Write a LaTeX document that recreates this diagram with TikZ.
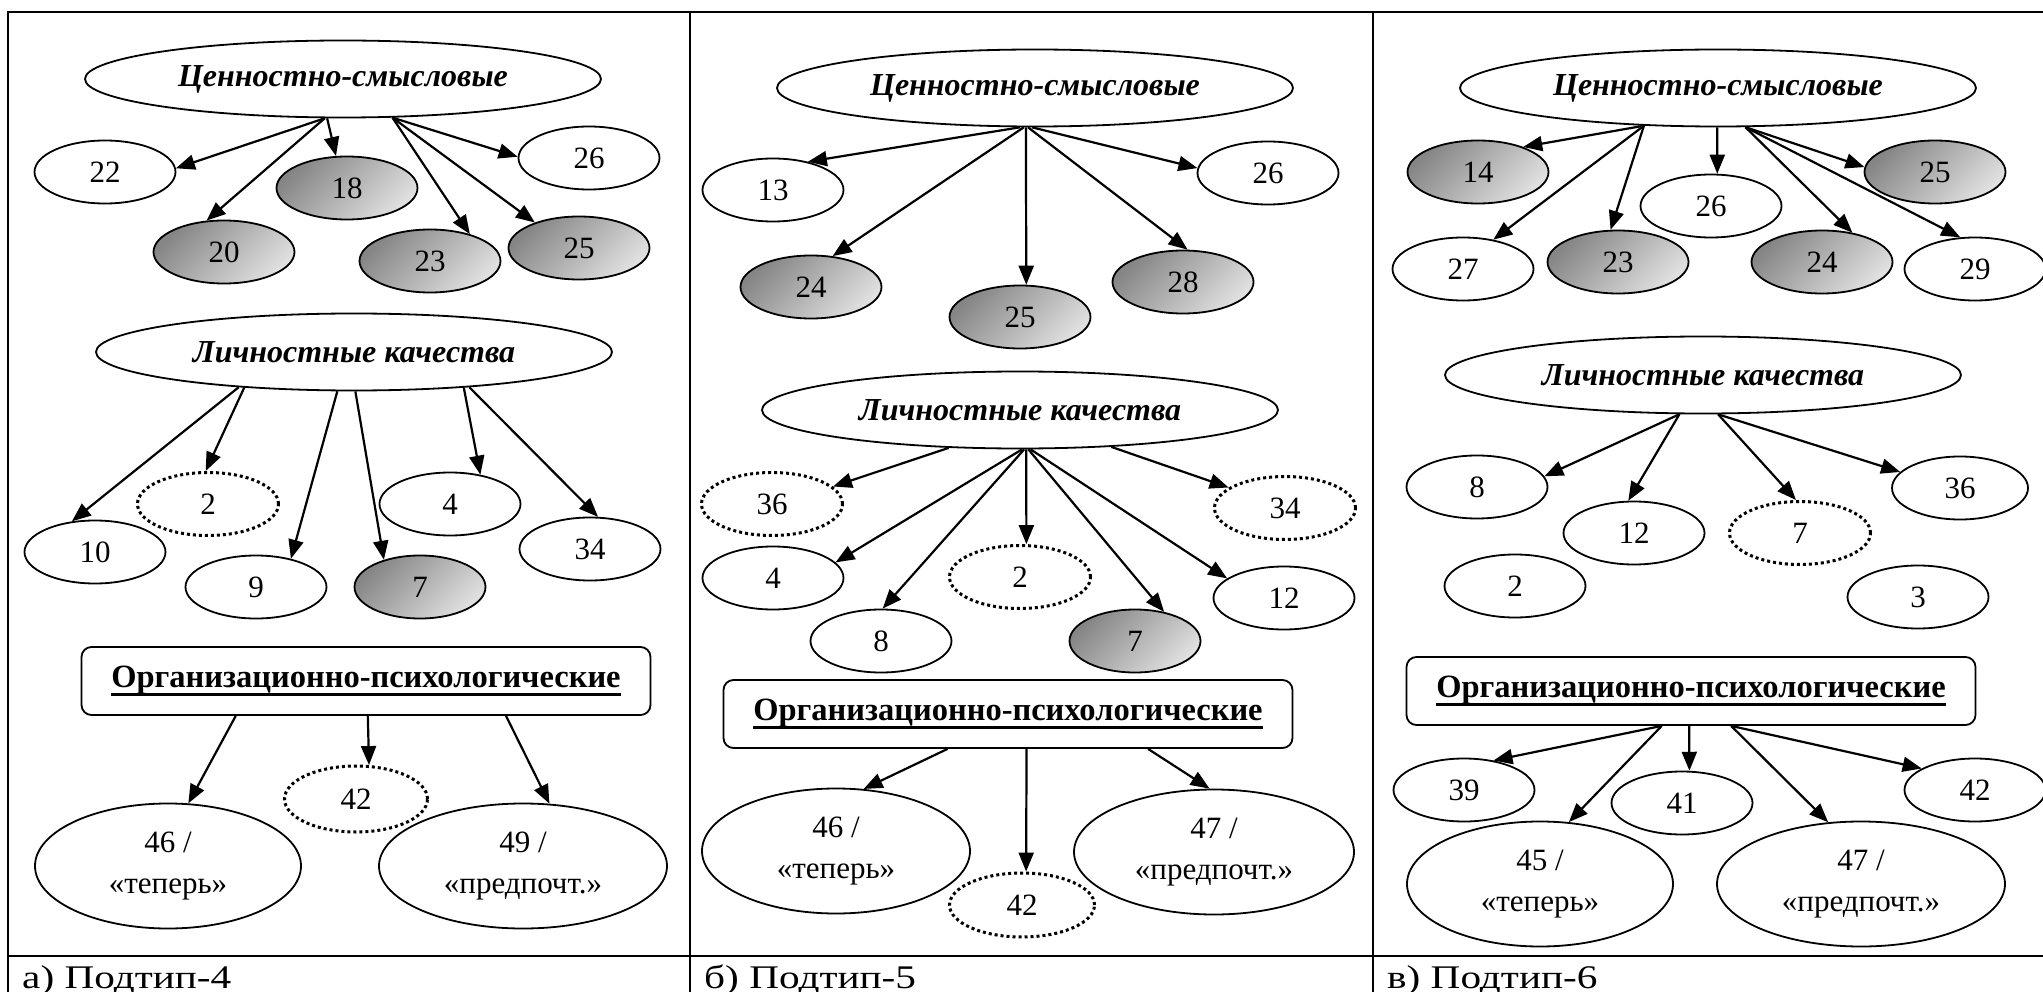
\documentclass[tikz,border=0pt]{standalone}
\usepackage{fontspec}
\setmainfont{Liberation Serif}
\newfontfamily\capfont[FakeStretch=1.25]{Liberation Serif}
\usetikzlibrary{arrows.meta,calc,shapes.geometric}
\newcommand\myul[1]{\setbox0=\hbox{#1}\rlap{\rule[-8pt]{\wd0}{3pt}}\box0}
\newcommand\myarr[6]{%
  \draw[arr] let \p1=(#1.center), \p2=(#2,#3), \p3=(#4.center), \p4=(#5,#6),
    \n1={int(round(atan2(\y2-\y1,\x2-\x1)))},
    \n2={int(round(atan2(\y4-\y3,\x4-\x3)))} in (#1.\n1) -- (#4.\n2);}
\tikzset{
  txt/.style={font=\fontsize{31}{41}\selectfont, inner sep=0pt, align=center},
  el/.style={txt, ellipse, draw, line width=1.8pt, minimum width=141pt, minimum height=63pt},
  gr/.style={el, top color=black!48, bottom color=black!12, shading angle=45},
  dt/.style={el, line width=3pt, dash pattern=on 3pt off 3pt},
  hd/.style={txt, ellipse, draw, line width=1.8pt, minimum width=516pt, minimum height=77pt, font=\fontsize{32}{38}\selectfont\bfseries\itshape},
  bx/.style={txt, draw, rounded corners=10pt, line width=1.8pt, minimum width=569pt, minimum height=68pt, font=\fontsize{32.5}{38}\selectfont\bfseries},
  bigel/.style={el, minimum height=125pt},
  arr/.style={line width=2.2pt, -{Triangle[length=19pt,width=15pt]}},
  frm/.style={line width=2.4pt},
  captxt/.style={font=\capfont\fontsize{33}{38}\selectfont, inner sep=0pt, anchor=base west},
}
\begin{document}
\begin{tikzpicture}[x=1pt,y=-1pt]
\useasboundingbox (0,0) rectangle (2043,992);
% frame
\draw[frm] (8,992) -- (8,12) -- (2043,12);
\draw[frm] (690,12) -- (690,992);
\draw[frm] (1373,12) -- (1373,992);
\draw[frm] (8,956) -- (2043,956);
\node[captxt] (capa) at (22,988) {а) Подтип-4};
\node[captxt] (capb) at (704,988) {б) Подтип-5};
\node[captxt] (capc) at (1387,988) {в) Подтип-6};

% ---------- column a ----------
\node[hd] (aH1) at (343,79) {Ценностно-смысловые};
\node[el] (a22) at (105,172) {22};
\node[gr] (a18) at (347,188) {18};
\node[el] (a26) at (589,158) {26};
\node[gr] (a20) at (224,252) {20};
\node[gr] (a23) at (430,261) {23};
\node[gr] (a25) at (579,248) {25};
\myarr{aH1}{325}{117}{a22}{176}{168}
\myarr{aH1}{325}{117}{a20}{206}{220}
\myarr{aH1}{328}{117}{a18}{336}{156}
\myarr{aH1}{391}{117}{a23}{465}{237}
\myarr{aH1}{391}{117}{a25}{531}{220}
\myarr{aH1}{391}{117}{a26}{518}{157}

\node[hd] (aH2) at (354,352) {Личностные качества};
\node[dt] (a2) at (208,504) {2};
\node[el] (a10) at (95,552) {10};
\node[el] (a9) at (256,587) {9};
\node[gr, minimum width=131pt] (a7) at (420,587) {7};
\node[el] (a4) at (450,504) {4};
\node[el] (a34) at (590,549) {34};
\myarr{aH2}{237}{388}{a10}{71}{520}
\myarr{aH2}{237}{390}{a2}{206}{472}
\myarr{aH2}{337}{392}{a9}{286}{563}
\myarr{aH2}{355}{390}{a7}{391}{565}
\myarr{aH2}{467}{388}{a4}{482}{473}
\myarr{aH2}{469}{388}{a34}{598}{518}

\node[bx] (aH3) at (366,681) {\myul{Организационно-психологические}};
\node[dt, minimum width=143pt, minimum height=66pt] (a42) at (356,799) {42};
\node[bigel, minimum width=266pt] (a46) at (168,866) {46 /\\«теперь»};
\node[bigel, minimum width=288pt] (a49) at (523,866) {49 /\\«предпочт.»};
\myarr{aH3}{237}{715}{a46}{188}{803}
\myarr{aH3}{368}{715}{a42}{368}{767}
\myarr{aH3}{500}{715}{a49}{550}{803}

% ---------- column b ----------
\node[hd] (bH1) at (1035,88) {Ценностно-смысловые};
\node[el] (b13) at (773,190) {13};
\node[el] (b26) at (1268,173) {26};
\node[gr] (b24) at (811,287) {24};
\node[gr] (b25) at (1020,317) {25};
\node[gr] (b28) at (1183,282) {28};
\myarr{bH1}{1020}{127}{b13}{814}{157}
\myarr{bH1}{1024}{127}{b24}{833}{255}
\myarr{bH1}{1026}{127}{b25}{1026}{285}
\myarr{bH1}{1028}{127}{b28}{1187}{255}
\myarr{bH1}{1032}{127}{b26}{1197}{168}

\node[hd] (bH2) at (1020,410) {Личностные качества};
\node[dt] (b36) at (772,504) {36};
\node[dt] (b34) at (1285,508) {34};
\node[el] (b4) at (773,578) {4};
\node[dt] (b2) at (1020,577) {2};
\node[el] (b12) at (1284,598) {12};
\node[el] (b8) at (881,641) {8};
\node[gr, minimum width=131pt] (b7) at (1135,641) {7};
\myarr{bH2}{950}{447}{b36}{833}{487}
\myarr{bH2}{1022}{448}{b4}{833}{563}
\myarr{bH2}{1024}{448}{b8}{883}{608}
\myarr{bH2}{1026}{448}{b2}{1026}{545}
\myarr{bH2}{1028}{448}{b7}{1163}{613}
\myarr{bH2}{1030}{448}{b12}{1232}{580}
\myarr{bH2}{1113}{447}{b34}{1226}{487}

\node[bx] (bH3) at (1008,714) {\myul{Организационно-психологические}};
\node[bigel, minimum width=268pt] (b46) at (836,851) {46 /\\«теперь»};
\node[bigel, minimum width=280pt] (b47) at (1214,852) {47 /\\«предпочт.»};
\node[dt, minimum width=145pt, minimum height=64pt] (b42) at (1022,905) {42};
\myarr{bH3}{950}{748}{b46}{863}{790}
\myarr{bH3}{1026}{748}{b42}{1026}{873}
\myarr{bH3}{1141}{748}{b47}{1210}{790}

% ---------- column c ----------
\node[hd] (cH1) at (1718,88) {Ценностно-смысловые};
\node[gr] (c14) at (1478,172) {14};
\node[gr] (c25) at (1935,172) {25};
\node[el] (c26) at (1711,206) {26};
\node[el] (c27) at (1463,269) {27};
\node[gr] (c23) at (1618,262) {23};
\node[gr] (c24) at (1822,262) {24};
\node[el] (c29) at (1975,269) {29};
\myarr{cH1}{1641}{127}{c14}{1512}{153}
\myarr{cH1}{1641}{127}{c27}{1496}{237}
\myarr{cH1}{1643}{127}{c23}{1612}{237}
\myarr{cH1}{1717}{127}{c26}{1717}{174}
\myarr{cH1}{1745}{126}{c24}{1848}{237}
\myarr{cH1}{1745}{126}{c29}{1960}{237}
\myarr{cH1}{1745}{126}{c25}{1867}{167}

\node[hd] (cH2) at (1703,375) {Личностные качества};
\node[el] (c8) at (1477,487) {8};
\node[el] (c12) at (1634,533) {12};
\node[dt] (c7) at (1800,533) {7};
\node[el, minimum width=136pt] (c36) at (1960,488) {36};
\node[el] (c2) at (1515,586) {2};
\node[el] (c3) at (1918,597) {3};
\myarr{cH2}{1680}{413}{c8}{1551}{475}
\myarr{cH2}{1680}{413}{c12}{1628}{500}
\myarr{cH2}{1717}{412}{c7}{1796}{502}
\myarr{cH2}{1717}{412}{c36}{1903}{473}

\node[bx] (cH3) at (1691,691) {\myul{Организационно-психологические}};
\node[el] (c39) at (1464,790) {39};
\node[el] (c41) at (1682,803) {41};
\node[el] (c42) at (1975,790) {42};
\node[bigel, minimum width=266pt] (c45) at (1540,884) {45 /\\«теперь»};
\node[bigel, minimum width=288pt] (c47) at (1861,884) {47 /\\«предпочт.»};
\myarr{cH3}{1662}{725}{c39}{1496}{758}
\myarr{cH3}{1662}{725}{c45}{1569}{823}
\myarr{cH3}{1689}{725}{c41}{1689}{772}
\myarr{cH3}{1730}{725}{c47}{1828}{822}
\myarr{cH3}{1730}{725}{c42}{1917}{767}
\end{tikzpicture}
\end{document}
